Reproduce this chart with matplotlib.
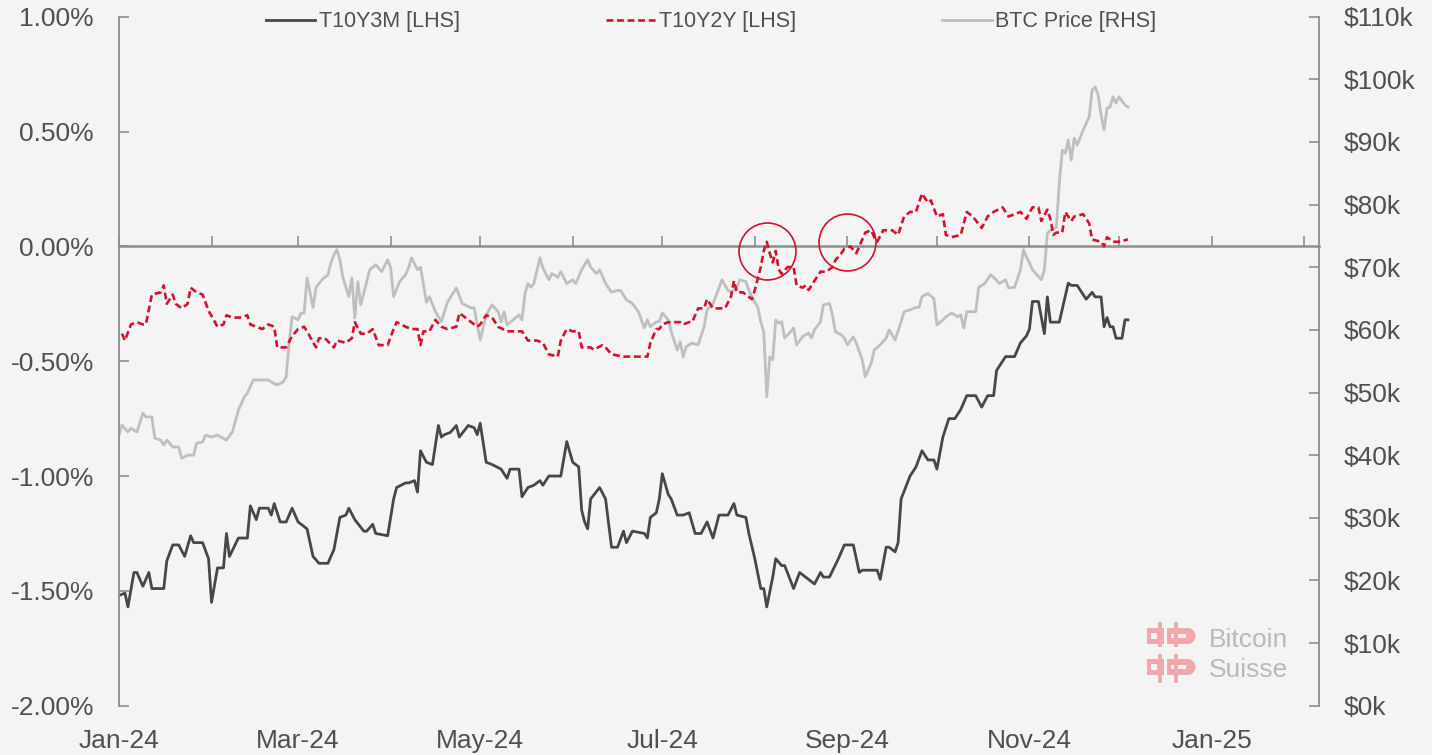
import numpy as np
import matplotlib
matplotlib.use('Agg')
import matplotlib.pyplot as plt
import matplotlib.dates as mdates
from matplotlib.ticker import FuncFormatter, MultipleLocator, NullFormatter
from matplotlib.lines import Line2D
from matplotlib.patches import Rectangle, Ellipse

plt.rcParams['font.family'] = ['Liberation Sans', 'DejaVu Sans']

START = np.datetime64('2024-01-01')

# days since 2024-01-01 and spread values (%)
t10y3m_days = [0, 2, 3, 5, 6, 8, 10, 11, 15, 16,
               18, 20, 22, 24, 25, 28, 30, 31, 33, 35,
               36, 37, 40, 43, 44, 46, 47, 50, 51, 52,
               54, 56, 58, 60, 63, 65, 67, 70, 72, 74,
               76, 77, 79, 82, 83, 85, 86, 90, 92, 93,
               96, 97, 99, 100, 101, 103, 105, 107, 108, 109,
               111, 113, 114, 117, 119, 120, 121, 123, 125, 128,
               130, 131, 134, 135, 137, 139, 141, 142, 144, 148,
               150, 152, 154, 155, 156, 157, 158, 161, 163, 165,
               167, 169, 170, 172, 176, 177, 178, 180, 181, 182,
               184, 185, 187, 189, 191, 193, 195, 197, 199, 201,
               204, 206, 207, 210, 211, 213, 215, 216, 217, 219,
               220, 222, 223, 226, 228, 230, 233, 235, 236, 238,
               241, 243, 246, 248, 249, 254, 255, 257, 258, 260,
               261, 262, 265, 267, 269, 271, 273, 274, 276, 278,
               280, 282, 284, 287, 289, 291, 293, 294, 297, 300,
               302, 304, 305, 306, 308, 310, 311, 312, 315, 318,
               319, 321, 324, 326, 327, 329, 330, 331, 332, 333,
               334, 336, 337, 338]
t10y3m_vals = [-1.52, -1.51, -1.57, -1.42, -1.42, -1.48, -1.42, -1.49, -1.49, -1.37,
               -1.30, -1.30, -1.35, -1.26, -1.29, -1.29, -1.36, -1.55, -1.40, -1.40,
               -1.25, -1.35, -1.27, -1.27, -1.13, -1.19, -1.14, -1.14, -1.17, -1.12,
               -1.20, -1.20, -1.14, -1.20, -1.23, -1.35, -1.38, -1.38, -1.32, -1.18,
               -1.17, -1.14, -1.19, -1.24, -1.24, -1.21, -1.25, -1.26, -1.10, -1.05,
               -1.03, -1.03, -1.02, -1.07, -0.89, -0.94, -0.95, -0.78, -0.83, -0.82,
               -0.81, -0.78, -0.83, -0.78, -0.79, -0.82, -0.77, -0.94, -0.95, -0.97,
               -1.01, -0.97, -0.97, -1.09, -1.05, -1.04, -1.02, -1.04, -1.00, -1.00,
               -0.85, -0.94, -0.96, -1.15, -1.20, -1.23, -1.10, -1.05, -1.10, -1.31,
               -1.31, -1.24, -1.29, -1.24, -1.25, -1.27, -1.18, -1.16, -1.10, -0.99,
               -1.08, -1.10, -1.17, -1.17, -1.16, -1.25, -1.25, -1.20, -1.27, -1.17,
               -1.17, -1.12, -1.17, -1.18, -1.25, -1.36, -1.49, -1.49, -1.57, -1.44,
               -1.36, -1.39, -1.39, -1.49, -1.42, -1.44, -1.47, -1.42, -1.44, -1.44,
               -1.36, -1.30, -1.30, -1.42, -1.41, -1.41, -1.45, -1.31, -1.31, -1.33,
               -1.29, -1.10, -1.00, -0.96, -0.89, -0.93, -0.93, -0.97, -0.83, -0.75,
               -0.75, -0.71, -0.65, -0.65, -0.70, -0.65, -0.65, -0.54, -0.48, -0.48,
               -0.42, -0.39, -0.36, -0.24, -0.24, -0.38, -0.22, -0.33, -0.33, -0.16,
               -0.17, -0.17, -0.23, -0.20, -0.22, -0.22, -0.35, -0.31, -0.35, -0.35,
               -0.40, -0.40, -0.32, -0.32]

t10y2y_days = [1, 2, 4, 6, 8, 9, 11, 14, 15, 16,
               18, 19, 21, 23, 24, 26, 28, 30, 33, 35,
               36, 38, 41, 43, 44, 46, 48, 50, 52, 53,
               56, 58, 60, 62, 63, 66, 67, 69, 72, 73,
               76, 78, 79, 81, 83, 85, 87, 90, 92, 93,
               96, 98, 100, 101, 102, 104, 106, 108, 110, 113,
               114, 116, 118, 120, 121, 123, 125, 127, 130, 133,
               135, 137, 140, 142, 144, 147, 148, 150, 152, 154,
               155, 158, 159, 162, 163, 165, 169, 171, 174, 175,
               177, 178, 180, 181, 182, 184, 185, 186, 188, 189,
               191, 192, 194, 196, 197, 199, 200, 203, 205, 206,
               207, 209, 211, 212, 213, 215, 216, 217, 218, 219,
               220, 221, 222, 224, 226, 227, 229, 230, 231, 233,
               235, 237, 239, 240, 242, 243, 245, 247, 248, 250,
               252, 253, 254, 256, 258, 259, 261, 263, 265, 267,
               269, 271, 272, 274, 276, 277, 279, 282, 284, 286,
               289, 291, 293, 296, 298, 300, 302, 304, 306, 308,
               309, 311, 312, 313, 314, 316, 317, 319, 320, 323,
               325, 326, 329, 330, 331, 333, 334, 335, 338]
t10y2y_vals = [-0.38, -0.41, -0.34, -0.33, -0.34, -0.34, -0.21, -0.20, -0.17, -0.25,
               -0.21, -0.25, -0.27, -0.25, -0.18, -0.20, -0.21, -0.28, -0.35, -0.34,
               -0.30, -0.31, -0.31, -0.30, -0.34, -0.35, -0.36, -0.34, -0.35, -0.44,
               -0.44, -0.39, -0.36, -0.35, -0.37, -0.44, -0.40, -0.40, -0.44, -0.41,
               -0.42, -0.40, -0.33, -0.38, -0.38, -0.36, -0.43, -0.43, -0.36, -0.33,
               -0.35, -0.36, -0.36, -0.43, -0.37, -0.37, -0.32, -0.35, -0.36, -0.35,
               -0.29, -0.31, -0.33, -0.35, -0.34, -0.30, -0.31, -0.35, -0.37, -0.37,
               -0.37, -0.41, -0.41, -0.42, -0.47, -0.48, -0.41, -0.36, -0.37, -0.37,
               -0.44, -0.44, -0.45, -0.43, -0.44, -0.47, -0.48, -0.48, -0.48, -0.48,
               -0.48, -0.42, -0.36, -0.36, -0.34, -0.33, -0.33, -0.33, -0.33, -0.34,
               -0.33, -0.33, -0.27, -0.27, -0.23, -0.27, -0.27, -0.27, -0.22, -0.15,
               -0.20, -0.20, -0.22, -0.23, -0.19, -0.09, -0.02, 0.02, -0.03, -0.07,
               -0.02, -0.10, -0.12, -0.09, -0.09, -0.17, -0.18, -0.17, -0.19, -0.15,
               -0.11, -0.11, -0.09, -0.06, -0.03, -0.01, 0.00, -0.03, 0.00, 0.06,
               0.07, 0.04, 0.02, 0.07, 0.07, 0.07, 0.05, 0.13, 0.15, 0.15,
               0.23, 0.19, 0.20, 0.13, 0.14, 0.05, 0.04, 0.05, 0.15, 0.13,
               0.08, 0.13, 0.15, 0.17, 0.13, 0.14, 0.15, 0.12, 0.17, 0.17,
               0.11, 0.16, 0.12, 0.05, 0.06, 0.06, 0.15, 0.11, 0.13, 0.14,
               0.10, 0.03, 0.02, 0.00, 0.04, 0.02, 0.02, 0.02, 0.03]

# BTC price in $k
btc_days = [0, 1, 3, 4, 6, 8, 9, 11, 12, 14,
            15, 16, 18, 20, 21, 23, 25, 26, 28, 29,
            31, 33, 36, 38, 40, 42, 43, 45, 47, 50,
            51, 53, 55, 56, 57, 58, 60, 61, 62, 63,
            65, 66, 68, 70, 71, 72, 73, 74, 75, 77,
            78, 79, 80, 81, 84, 86, 88, 90, 91, 92,
            94, 96, 97, 98, 100, 101, 103, 104, 106, 108,
            110, 113, 115, 118, 119, 120, 121, 123, 125, 127,
            128, 129, 130, 132, 134, 135, 136, 137, 138, 139,
            141, 142, 144, 145, 147, 148, 150, 152, 153, 155,
            157, 158, 160, 161, 163, 165, 167, 168, 170, 172,
            174, 176, 177, 178, 180, 181, 182, 184, 185, 187,
            188, 189, 190, 192, 194, 196, 197, 199, 201, 202,
            204, 205, 207, 208, 210, 211, 212, 214, 215, 216,
            217, 218, 219, 220, 221, 222, 223, 225, 226, 227,
            229, 231, 232, 233, 235, 236, 238, 239, 240, 242,
            243, 244, 246, 247, 249, 250, 252, 253, 255, 257,
            258, 260, 262, 263, 265, 267, 268, 269, 271, 273,
            274, 276, 277, 279, 281, 282, 283, 284, 287, 288,
            290, 292, 293, 295, 297, 298, 300, 302, 303, 304,
            305, 306, 309, 310, 311, 312, 314, 315, 316, 317,
            318, 319, 320, 321, 323, 325, 326, 327, 328, 329,
            330, 331, 332, 333, 334, 335, 337, 338]
btc_vals = [43.2, 44.8, 43.7, 44.3, 43.7, 46.7, 46.1, 46.1, 42.7, 42.4,
            41.6, 42.4, 41.3, 41.3, 39.5, 40.0, 40.0, 41.9, 42.1, 43.2,
            42.9, 43.2, 42.4, 43.7, 47.2, 49.3, 49.9, 52.0, 52.0, 52.0,
            51.7, 51.2, 51.7, 52.5, 57.9, 62.1, 61.6, 62.7, 62.7, 68.3,
            63.6, 66.8, 68.0, 68.8, 70.7, 72.0, 72.8, 71.2, 68.4, 65.3,
            68.3, 61.9, 67.7, 64.0, 69.6, 70.4, 69.3, 71.2, 69.9, 65.3,
            67.7, 68.8, 69.9, 71.5, 69.6, 70.0, 64.4, 65.3, 62.9, 61.3,
            64.4, 66.7, 64.2, 63.5, 63.5, 60.8, 58.4, 62.4, 64.0, 62.9,
            61.3, 62.9, 60.8, 61.6, 62.4, 61.6, 65.8, 67.4, 66.8, 67.4,
            71.5, 69.9, 68.0, 69.0, 68.4, 69.3, 67.4, 68.0, 67.4, 69.6,
            71.2, 70.0, 69.0, 69.6, 67.4, 66.0, 66.3, 66.3, 64.8, 64.2,
            62.9, 60.3, 61.6, 60.5, 61.3, 61.3, 62.7, 61.6, 59.7, 56.8,
            58.1, 55.7, 57.3, 57.9, 57.6, 60.5, 63.2, 64.2, 66.7, 68.0,
            66.3, 66.0, 66.8, 68.0, 67.7, 66.3, 65.3, 63.6, 61.3, 59.7,
            49.3, 55.7, 55.2, 61.6, 61.1, 61.3, 58.7, 59.7, 60.3, 57.6,
            58.9, 59.5, 58.7, 60.0, 61.3, 64.0, 64.2, 62.4, 59.7, 59.2,
            58.7, 57.6, 58.9, 57.9, 55.2, 52.5, 54.7, 56.8, 57.6, 58.7,
            60.0, 58.4, 61.3, 62.9, 63.2, 63.6, 63.6, 65.3, 65.8, 65.0,
            60.8, 61.6, 62.1, 62.7, 62.1, 62.4, 60.3, 62.9, 62.9, 66.8,
            67.4, 68.8, 68.4, 67.4, 68.0, 66.7, 66.8, 69.6, 72.8, 71.6,
            70.7, 69.6, 68.0, 69.6, 75.4, 75.9, 76.4, 83.4, 88.7, 88.2,
            90.3, 87.1, 90.6, 89.5, 91.9, 94.0, 98.3, 98.8, 97.5, 94.3,
            91.9, 95.4, 95.6, 97.2, 96.2, 97.2, 95.9, 95.6]

# highlighted zero-crossings
circle_days = [217, 244]
circle_vals = [-0.02, 0.02]

series_labels = ['T10Y3M [LHS]', 'T10Y2Y [LHS]', 'BTC Price [RHS]']

DARK = '#474747'
RED = '#d3122e'
LIGHT = '#bfbfbf'
TEXT = '#505050'
AXIS = '#8e8e8e'
BG = '#f4f4f4'


def to_dates(days):
    return START + np.array(days).astype('timedelta64[D]')


W, H = 1432, 755
fig = plt.figure(figsize=(W / 100, H / 100), dpi=100, facecolor=BG)
ax = fig.add_axes([119 / W, (H - 705.7) / H, 1200 / W, (705.7 - 16.7) / H])
ax2 = ax.twinx()
ax.set_zorder(ax2.get_zorder() + 1)
ax.patch.set_visible(False)

ax2.plot(to_dates(btc_days), btc_vals, color=LIGHT, lw=2.0, solid_joinstyle='round')
ax.plot(to_dates(t10y3m_days), t10y3m_vals, color=DARK, lw=2.0, solid_joinstyle='round')
ax.plot(to_dates(t10y2y_days), t10y2y_vals, color=RED, lw=1.9, ls=(0, (2.6, 1.4)))
ax.plot(to_dates(circle_days), circle_vals, ls='none', marker='o', ms=41,
        mfc='none', mec=RED, mew=1.2)

ax.set_xlim(START, START + np.timedelta64(402, 'D'))
ax.set_ylim(-2.0, 1.0)
ax2.set_ylim(0, 110)

# left axis
ax.yaxis.set_major_locator(MultipleLocator(0.5))
ax.yaxis.set_major_formatter(FuncFormatter(lambda v, p: f'{v:.2f}%'))
ax.tick_params(axis='y', direction='in', length=7, width=1.2, color=AXIS,
               labelsize=19, labelcolor=TEXT, pad=18)
# right axis
ax2.yaxis.set_major_locator(MultipleLocator(10))
ax2.yaxis.set_major_formatter(FuncFormatter(lambda v, p: f'${v:.0f}k'))
ax2.tick_params(axis='y', direction='in', length=7, width=1.2, color=AXIS,
                labelsize=19, labelcolor=TEXT, pad=18)

for a in (ax, ax2):
    for s in ('top', 'bottom'):
        a.spines[s].set_visible(False)
    a.spines['left'].set_color(AXIS)
    a.spines['right'].set_color(AXIS)
    a.spines['left'].set_linewidth(1.3)
    a.spines['right'].set_linewidth(1.3)
ax.spines['right'].set_visible(False)
ax2.spines['left'].set_visible(False)

# date labels at the bottom, every two months
ax.xaxis.set_major_locator(mdates.MonthLocator(bymonth=[1, 3, 5, 7, 9, 11]))
ax.xaxis.set_major_formatter(mdates.DateFormatter('%b-%y'))
ax.tick_params(axis='x', length=0, labelsize=19, labelcolor=TEXT, pad=17)

# zero line with monthly ticks
zax = ax.secondary_xaxis(0, transform=ax.transData)
zax.xaxis.set_major_locator(mdates.MonthLocator())
zax.xaxis.set_major_formatter(NullFormatter())
zax.tick_params(axis='x', direction='in', length=7, width=1.2, color=AXIS)
for s in zax.spines.values():
    s.set_color(AXIS)
    s.set_linewidth(1.8)

# legend
handles = [Line2D([], [], color=DARK, lw=2.0),
           Line2D([], [], color=RED, lw=1.9, ls=(0, (2.6, 1.4))),
           Line2D([], [], color=LIGHT, lw=2.0)]
fig.legend(handles, series_labels, loc='center', bbox_to_anchor=(0.4965, 0.971),
           ncol=3, frameon=False, fontsize=15.5, labelcolor=TEXT,
           handlelength=2.3, handletextpad=0.15, columnspacing=6.8)


# Bitcoin Suisse watermark
def px(x, y):
    return x / W, 1 - y / H


LOGO = '#f2a7ad'


def rect(x0, y0, x1, y1, color=LOGO):
    fig.patches.append(Rectangle(px(x0, y1), (x1 - x0) / W, (y1 - y0) / H,
                                 transform=fig.transFigure, fc=color, ec='none'))


for top, bar0, bar1 in ((628, 622, 647), (659, 654, 683)):
    rect(1147, top, 1164, top + 16)
    rect(1151, top + 5, 1157, top + 11, color=BG)
    rect(1167, top, 1188, top + 16)
    fig.patches.append(Ellipse(px(1188, top + 8), 15 / W, 16 / H,
                               transform=fig.transFigure, fc=LOGO, ec='none'))
    rect(1171, top + 6, 1186, top + 10, color=BG)
    rect(1158, bar0, 1162, bar1)
    rect(1174, bar0, 1178, bar1)
fig.text(*px(1209, 647), 'Bitcoin', fontsize=19, color='#b9b9b9', va='baseline')
fig.text(*px(1209, 677), 'Suisse', fontsize=19, color='#b9b9b9', va='baseline')

fig.savefig('out.png', dpi=100, facecolor=BG)
